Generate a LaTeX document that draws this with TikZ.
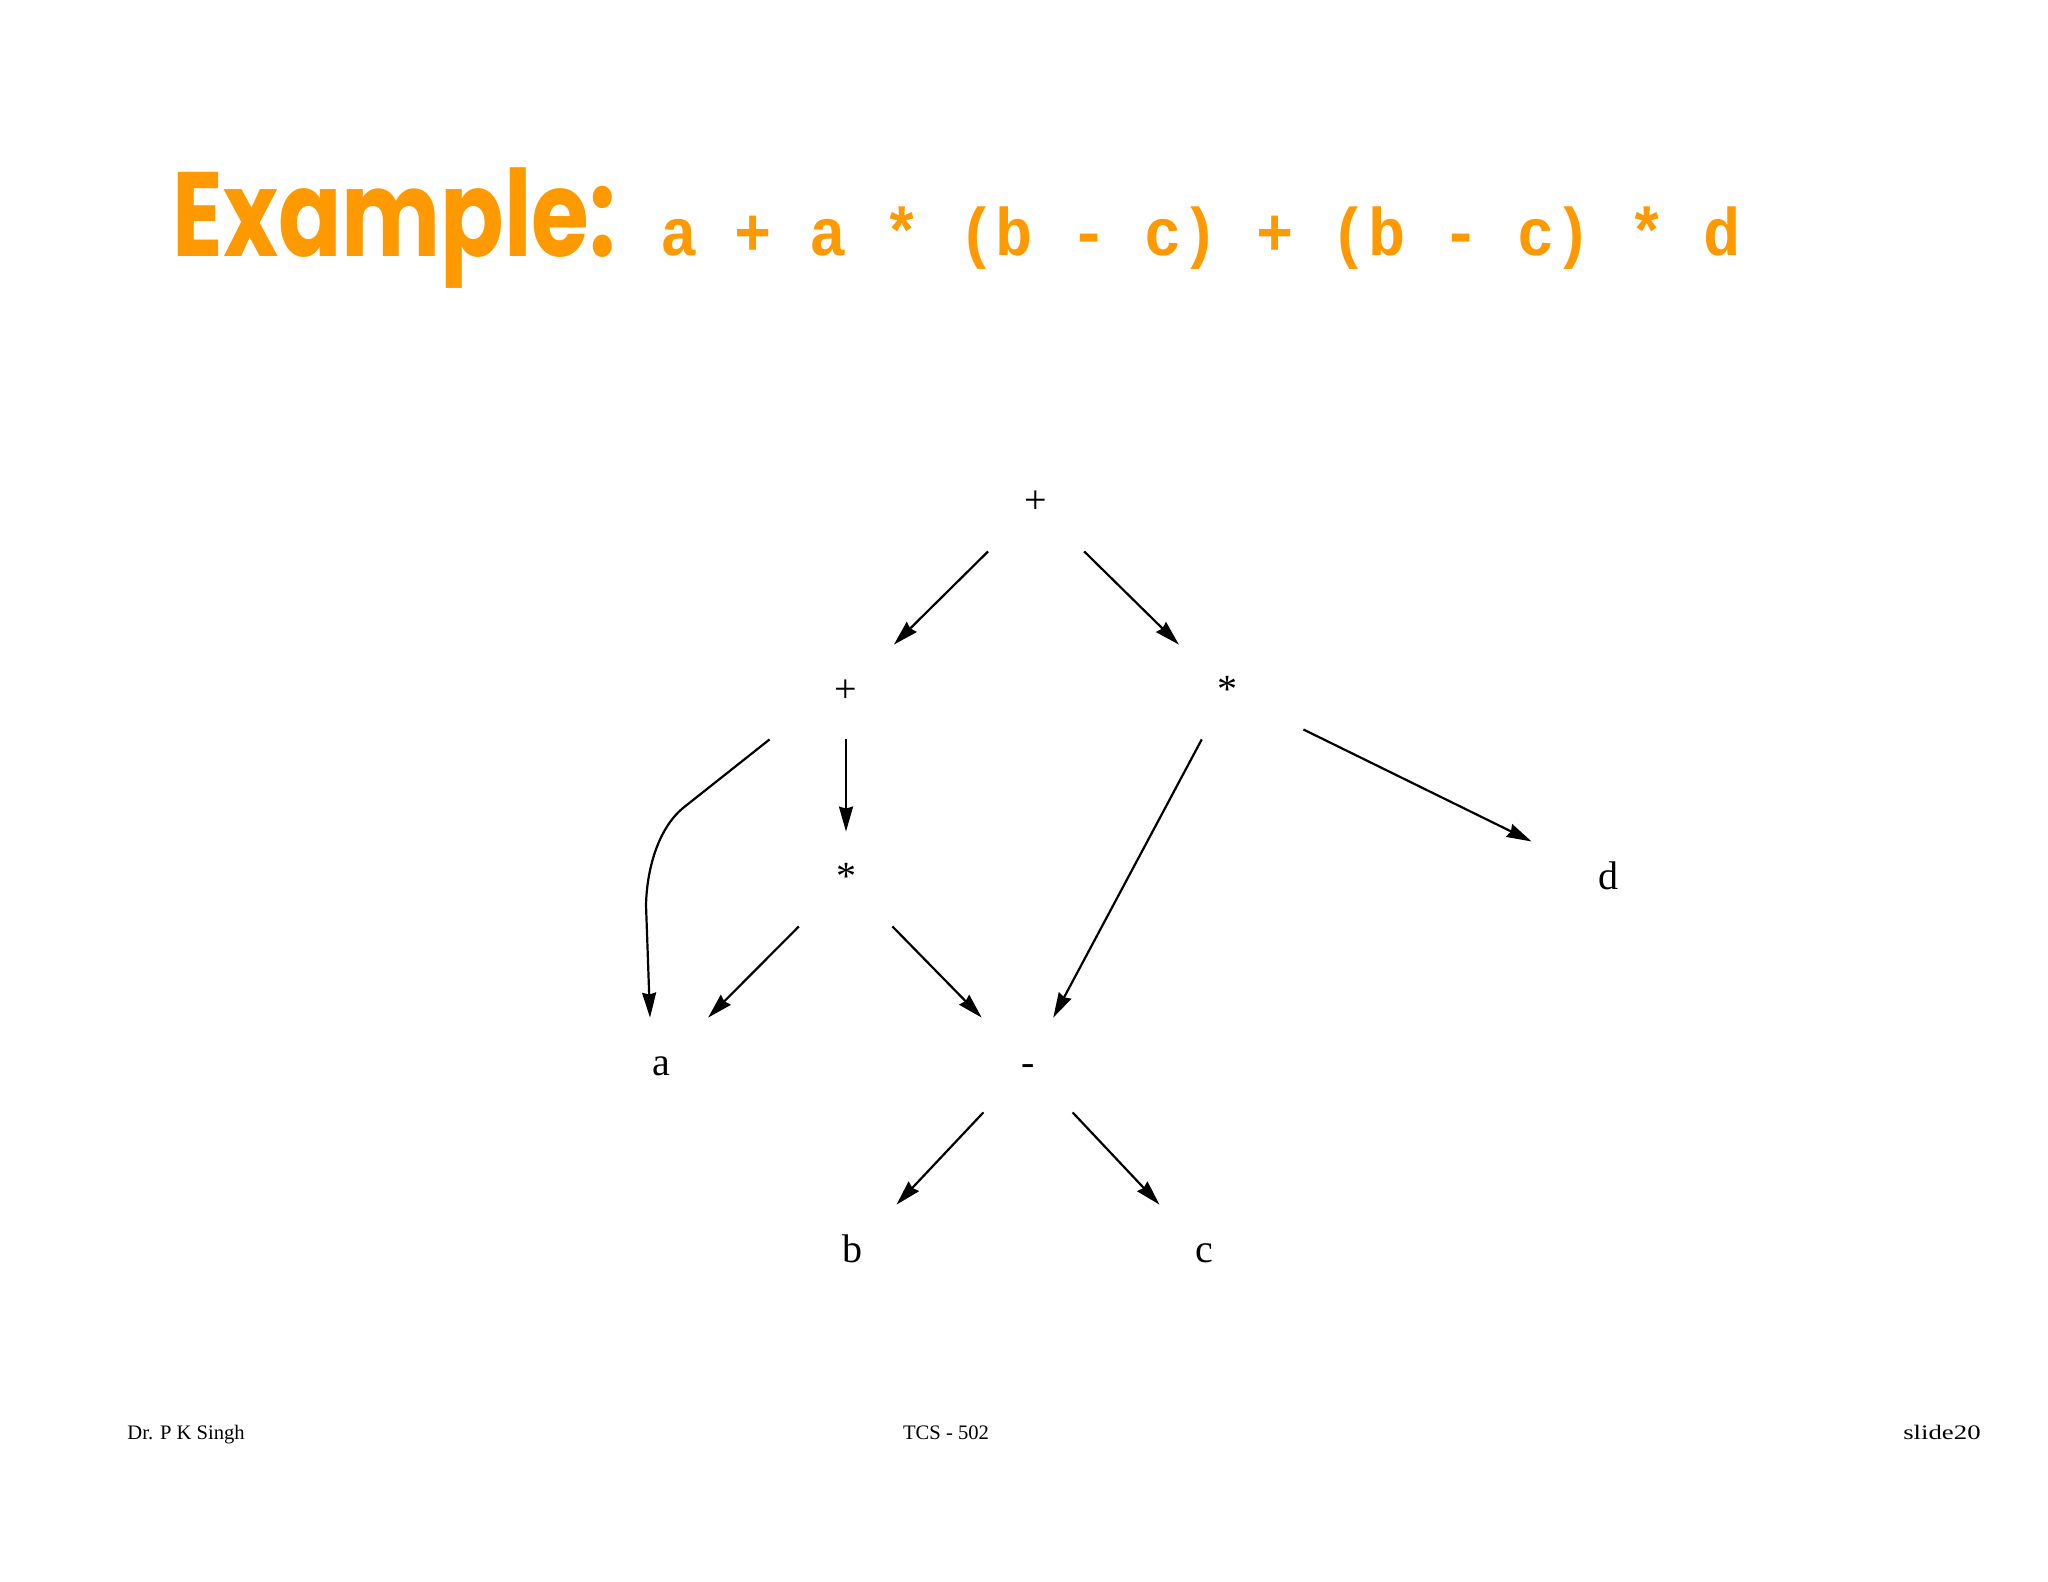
\documentclass[tikz,border=0pt]{standalone}
\usepackage{fontspec}
\setmainfont{Liberation Serif}
\newfontfamily\titlefont{Poppins}
\newfontfamily\codefont{Liberation Mono}
\usetikzlibrary{arrows.meta}
\definecolor{titleorange}{RGB}{255,153,0}
\begin{document}
\begin{tikzpicture}[x=0.5pt,y=-0.5pt,
  tn/.style={minimum width=76pt, minimum height=47pt, inner sep=0pt,
    font=\fontsize{20}{24}\selectfont, text height=14pt, text depth=4pt, anchor=base},
  edge/.style={line width=1.1pt, -{Stealth[length=12.5pt,width=7pt,inset=1pt]}},
  foot/.style={font=\fontsize{10.3}{12}\selectfont, inner sep=0pt},
  ttl/.style={inner sep=0pt, text=titleorange, anchor=base west}]
\useasboundingbox[fill=white] (0,0) rectangle (2048,1582);
% title
\node[ttl, font=\titlefont\bfseries\fontsize{60}{70}\selectfont] (title) at (172,257) {\scalebox{0.78}[1]{Example:}};
\node[ttl, font=\codefont\bfseries\fontsize{32}{36}\selectfont] (expr) at (660,256) {\scalebox{0.97}[1.05]{a + a * (b - c) + (b - c) * d}};
% tree nodes
\node[tn] (top) at (1036,514) {+};
\node[tn] (plusL) at (846,702) {+};
\node[tn] (starR) at (1227,702) {*};
\node[tn] (starM) at (846,889) {*};
\node[tn] (d) at (1608,889) {d};
\node[tn] (a) at (661,1075) {a};
\node[tn] (minus) at (1028,1075) {-};
\node[tn] (b) at (852,1262) {b};
\node[tn] (c) at (1204,1262) {c};
% curve helpers
\coordinate (p1) at (683,808);
\coordinate (c1) at (660,827);
\coordinate (c2) at (647,865);
\coordinate (p2) at (646,905);
% edges
\draw[edge] (top) -- (plusL);
\draw[edge] (top) -- (starR);
\draw[edge] (plusL) -- (starM);
\draw[edge] (plusL.south west) -- (p1) .. controls (c1) and (c2) .. (p2) -- ([xshift=-5.5pt]a.north);
\draw[edge] (starM) -- (a);
\draw[edge] (starM) -- (minus);
\draw[edge] (starR) -- (minus);
\draw[edge] (starR) -- (d);
\draw[edge] (minus) -- (b);
\draw[edge] (minus) -- (c);
% footer
\node[foot, anchor=base west] (author) at (127,1439) {Dr. P K Singh};
\node[foot, anchor=base] (course) at (946,1439) {TCS - 502};
\node[foot, anchor=base east] (slide) at (1981,1439) {\scalebox{1.3}[1]{slide20}};
\end{tikzpicture}
\end{document}
